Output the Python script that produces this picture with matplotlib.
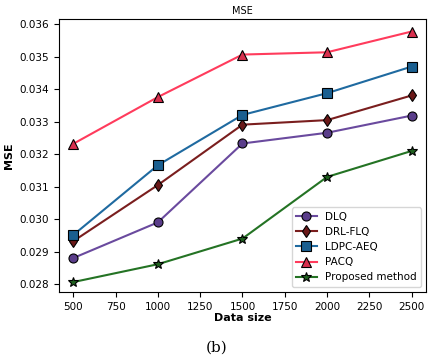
import matplotlib
matplotlib.use("Agg")
import matplotlib.pyplot as plt

data_size = [500, 1000, 1500, 2000, 2500]
dlq = [0.02880, 0.02990, 0.03233, 0.03266, 0.03319]
drl_flq = [0.02932, 0.03105, 0.03291, 0.03305, 0.03381]
ldpc_aeq = [0.02951, 0.03166, 0.03321, 0.03388, 0.03470]
pacq = [0.03232, 0.03376, 0.03507, 0.03514, 0.03578]
proposed = [0.02806, 0.02861, 0.02940, 0.03130, 0.03210]

series = [
    ("DLQ", dlq, "#6a4a9e", "#5a3d8a", "o", 6.5),
    ("DRL-FLQ", drl_flq, "#7a1e1e", "#6a1818", "d", 6.5),
    ("LDPC-AEQ", ldpc_aeq, "#1f6aa0", "#1a5f90", "s", 6.5),
    ("PACQ", pacq, "#ff3b5c", "#d8304e", "^", 6.5),
    ("Proposed method", proposed, "#247324", "#1e5f1e", "*", 7.5),
]

fig = plt.figure(figsize=(4.33, 3.55), dpi=100)
ax = fig.add_axes([0.136, 0.178, 0.848, 0.768])
for name, vals, lc, fc, m, ms in series:
    ax.plot(data_size, vals, color=lc, marker=m, markersize=ms, markerfacecolor=fc,
            markeredgecolor="black", markeredgewidth=0.8, linewidth=1.5, label=name)

ax.set_title("MSE", fontsize=7, pad=4)
ax.set_xlabel("Data size", fontsize=8, fontweight="bold", labelpad=1)
ax.set_ylabel("MSE", fontsize=8, fontweight="bold")
ax.set_xticks([500, 750, 1000, 1250, 1500, 1750, 2000, 2250, 2500])
ax.set_yticks([0.028, 0.029, 0.030, 0.031, 0.032, 0.033, 0.034, 0.035, 0.036])
ax.tick_params(labelsize=7.5)
ax.set_xlim(415, 2585)
ax.set_ylim(0.02776, 0.03616)
ax.legend(loc="lower right", fontsize=7.5, framealpha=0.8)
fig.text(0.5, 0.022, "(b)", ha="center", va="center", fontsize=11, family="DejaVu Serif")
fig.savefig("out.png", dpi=100)
